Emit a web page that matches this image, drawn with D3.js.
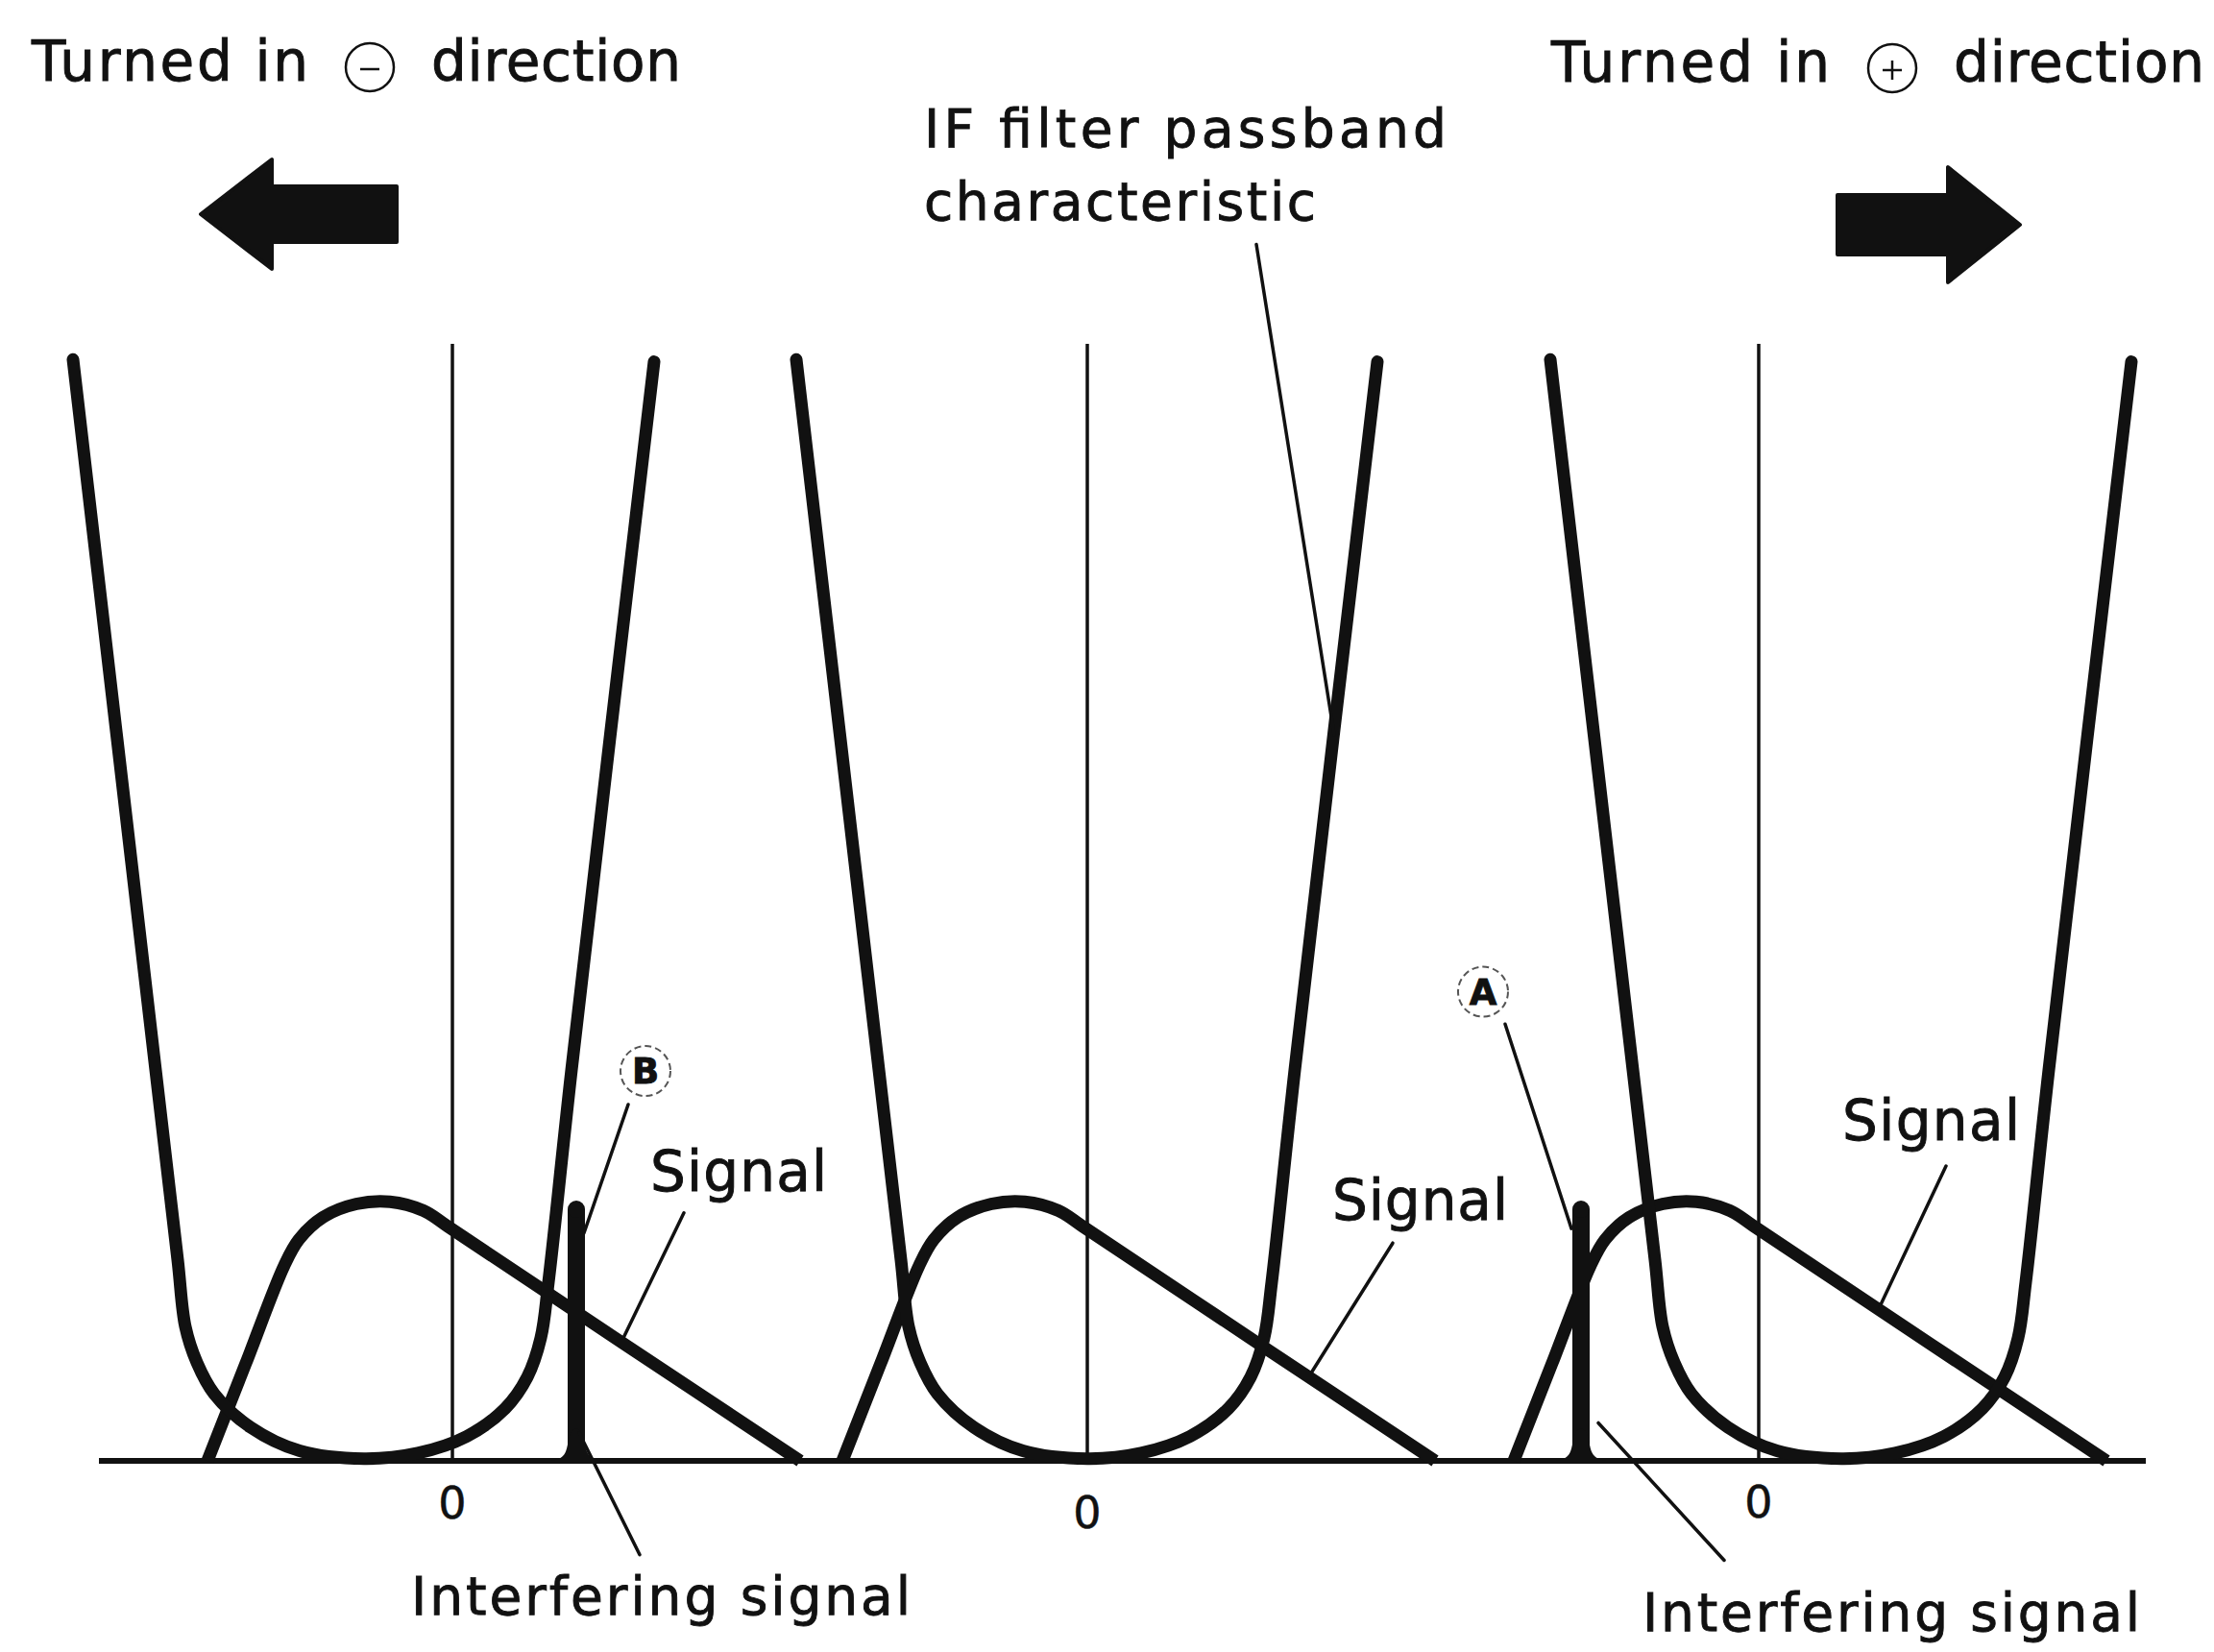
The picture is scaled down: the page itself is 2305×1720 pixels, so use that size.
<!DOCTYPE html>
<html>
<head>
<meta charset="utf-8">
<script src="https://cdn.jsdelivr.net/npm/d3@7"></script>
<style>
  html, body { margin: 0; padding: 0; background: #fff; }
  svg { display: block; }
  text { font-family: "DejaVu Sans", sans-serif; fill: #111; stroke: #111; stroke-width: 0.9px; }
</style>
</head>
<body>
<svg id="chart"></svg>
<script>
// IF filter passband vs. signal, three tuning positions side by side

// dial position of each panel's zero (kHz) and how far the filter is turned
const panelZero = [47.1, 113.2, 183.1];
const filterShift = [-9.2, 0, 8.6];
const zeroLabels = ['0', '0', '0'];

// IF filter passband, [offset kHz, relative level]
const filterShape = [
    [-30.3, 98.6], [-21.7, 35.0], [-19.4, 18.0], [-18.6, 12.0], [-17.4, 8.8],
    [-15.6, 6.0], [-11.8, 3.0], [-6.7, 0.9], [0, 0.2], [5.6, 0.7],
    [10.7, 2.2], [14.7, 4.7], [17.0, 7.5], [18.4, 11.0], [19.2, 16.0],
    [21.6, 35.0], [30.2, 98.4]
];

// wanted signal spectrum, relative to each panel's zero
const signalShape = [
    [-25.5, 0], [-21.5, 8.75], [-17.5, 17.5], [-16.0, 19.8], [-13.5, 21.8],
    [-10.0, 23.0], [-6.5, 23.2], [-3.0, 22.4], [-0.5, 21.0], [18.0, 10.4], [36.2, 0]
];

// interfering carrier in each panel (null where there is none)
const interferer = [12.9, null, -18.5];
const interfererLevel = 23.3;

// ---- layout -------------------------------------------------------------
const width = 2305, height = 1720;

const svg = d3.select('#chart')
    .attr('width', width)
    .attr('height', height);

const x = d3.scaleLinear().domain([0, 230.5]).range([0, width]);
const y = d3.scaleLinear().domain([0, 100]).range([1521, 358]);

const line = d3.line()
    .x(d => x(d[0]))
    .y(d => y(d[1]))
    .curve(d3.curveCatmullRom.alpha(0.5));

const ink = '#111';

// annotation placement, in the same units as the data
const zeroLabelLevel = [-5.2, -6.0, -5.1];
const signalNotes = [
    { f: 67.7, a: 24.2, w: 184, from: [71.2, 22.2], to: [64.9, 11.0] },
    { f: 138.7, a: 21.6, w: 183, from: [145.0, 19.5], to: [136.6, 8.0] },
    { f: 191.8, a: 28.7, w: 185, from: [202.6, 26.4], to: [195.7, 13.8] }
];
const interferingNotes = [
    { f: 42.8, a: -13.8, w: 520, from: [66.6, -8.4], to: [60.3, 2.5] },
    { f: 171.0, a: -15.2, w: 518, from: [179.5, -8.9], to: [166.4, 3.4] }
];
const markNotes = [
    { label: 'B', f: 67.2, a: 34.9, from: [65.4, 31.9], to: [60.8, 20.4] },
    { label: 'A', f: 154.4, a: 42.0, from: [156.7, 39.1], to: [163.6, 20.8] }
];
const filterNote = { from: [130.8, 108.9], to: [138.9, 65.0] };

// ---- axes ---------------------------------------------------------------
// zero reference of each panel
svg.append('g')
    .selectAll('line')
    .data(panelZero)
    .join('line')
    .attr('x1', d => x(d)).attr('x2', d => x(d))
    .attr('y1', y(0)).attr('y2', y(100))
    .attr('stroke', ink)
    .attr('stroke-width', 3.5);

svg.append('g')
    .selectAll('text')
    .data(panelZero)
    .join('text')
    .attr('x', d => x(d))
    .attr('y', (d, i) => y(zeroLabelLevel[i]))
    .attr('text-anchor', 'middle')
    .attr('font-size', 46)
    .style('stroke-width', '0.5px')
    .text((d, i) => zeroLabels[i]);

// frequency baseline
svg.append('line')
    .attr('x1', x(10.3)).attr('x2', x(223.4))
    .attr('y1', y(0)).attr('y2', y(0))
    .attr('stroke', ink)
    .attr('stroke-width', 6);

// ---- marks --------------------------------------------------------------
const panels = svg.append('g')
    .selectAll('g')
    .data(panelZero)
    .join('g');

// signal spectrum
panels.append('path')
    .attr('d', zero => line(signalShape.map(p => [zero + p[0], p[1]])))
    .attr('fill', 'none')
    .attr('stroke', ink)
    .attr('stroke-width', 13)
    .attr('stroke-linejoin', 'round');

// IF filter passband
panels.append('path')
    .attr('d', (zero, i) => line(filterShape.map(p => [zero + filterShift[i] + p[0], p[1]])))
    .attr('fill', 'none')
    .attr('stroke', ink)
    .attr('stroke-width', 13)
    .attr('stroke-linecap', 'round')
    .attr('stroke-linejoin', 'round');

// interfering carriers
const spikes = panelZero
    .map((zero, i) => interferer[i] === null ? null : zero + interferer[i])
    .filter(d => d !== null);

const spike = svg.append('g')
    .selectAll('g')
    .data(spikes)
    .join('g');

spike.append('line')
    .attr('x1', d => x(d)).attr('x2', d => x(d))
    .attr('y1', y(0))
    .attr('y2', y(interfererLevel) + 9)
    .attr('stroke', ink)
    .attr('stroke-width', 18);

spike.append('circle')
    .attr('cx', d => x(d))
    .attr('cy', y(interfererLevel) + 9)
    .attr('r', 9)
    .attr('fill', ink);

// little flare where the carrier meets the baseline
const flare = d3.line().x(d => x(d[0])).y(d => y(d[1])).curve(d3.curveBasis);
spike.append('path')
    .attr('d', d => flare([[d - 2.6, 0], [d - 0.9, 0.3], [d - 0.8, 3.0], [d + 0.8, 3.0], [d + 0.9, 0.3], [d + 2.6, 0]]))
    .attr('fill', ink);

// ---- leaders and labels ------------------------------------------------
const leaders = [filterNote, ...signalNotes, ...interferingNotes, ...markNotes];
svg.append('g')
    .selectAll('line')
    .data(leaders)
    .join('line')
    .attr('x1', d => x(d.from[0])).attr('y1', d => y(d.from[1]))
    .attr('x2', d => x(d.to[0])).attr('y2', d => y(d.to[1]))
    .attr('stroke', ink)
    .attr('stroke-width', 3.5)
    .attr('stroke-linecap', 'round');

svg.append('g')
    .selectAll('text')
    .data(signalNotes)
    .join('text')
    .attr('x', d => x(d.f))
    .attr('y', d => y(d.a))
    .attr('font-size', 58)
    .attr('textLength', d => d.w)
    .attr('lengthAdjust', 'spacing')
    .text('Signal');

svg.append('g')
    .selectAll('text')
    .data(interferingNotes)
    .join('text')
    .attr('x', d => x(d.f))
    .attr('y', d => y(d.a))
    .attr('font-size', 55)
    .attr('textLength', d => d.w)
    .attr('lengthAdjust', 'spacing')
    .text('Interfering signal');

const marks = svg.append('g')
    .selectAll('g')
    .data(markNotes)
    .join('g')
    .attr('transform', d => `translate(${x(d.f)},${y(d.a)})`);

marks.append('circle')
    .attr('r', 26)
    .attr('fill', 'none')
    .attr('stroke', '#555')
    .attr('stroke-width', 2)
    .attr('stroke-dasharray', '7,4');

marks.append('text')
    .attr('text-anchor', 'middle')
    .attr('dy', 13)
    .attr('font-size', 37)
    .attr('font-weight', 'bold')
    .text(d => d.label);

// ---- headings and arrows -------------------------------------------------
const headings = [
    { text: 'Turned in', x: 33, y: 84, w: 288, size: 58 },
    { text: 'direction', x: 449, y: 84, w: 260, size: 58 },
    { text: 'Turned in', x: 1615, y: 85, w: 290, size: 58 },
    { text: 'direction', x: 2034, y: 85, w: 261, size: 58 },
    { text: 'IF filter passband', x: 962, y: 153, w: 544, size: 55 },
    { text: 'characteristic', x: 962, y: 229, w: 408, size: 55 }
];

svg.append('g')
    .selectAll('text')
    .data(headings)
    .join('text')
    .attr('x', d => d.x)
    .attr('y', d => d.y)
    .attr('font-size', d => d.size)
    .attr('textLength', d => d.w)
    .attr('lengthAdjust', 'spacing')
    .text(d => d.text);

// circled minus / plus signs
const signs = [
    { cx: 385, cy: 70, plus: false },
    { cx: 1970, cy: 71, plus: true }
];
const sign = svg.append('g')
    .selectAll('g')
    .data(signs)
    .join('g')
    .attr('transform', d => `translate(${d.cx},${d.cy})`);

sign.append('circle')
    .attr('r', 25)
    .attr('fill', 'none')
    .attr('stroke', ink)
    .attr('stroke-width', 2.5);

sign.append('line')
    .attr('x1', -10).attr('x2', 10)
    .attr('y1', 2).attr('y2', 2)
    .attr('stroke', ink)
    .attr('stroke-width', 2.5);

sign.filter(d => d.plus).append('line')
    .attr('x1', 0).attr('x2', 0)
    .attr('y1', -8).attr('y2', 12)
    .attr('stroke', ink)
    .attr('stroke-width', 2.5);

// direction arrows: tip, where the head starts, tail end, centre line
const arrows = [
    { tip: 209, neck: 283, tail: 413, cy: 223, head: 57, shaft: 29 },
    { tip: 2103, neck: 2028, tail: 1913, cy: 234, head: 60, shaft: 31 }
];

svg.append('g')
    .selectAll('path')
    .data(arrows)
    .join('path')
    .attr('d', a => {
        const p = d3.path();
        p.moveTo(a.tip, a.cy);
        p.lineTo(a.neck, a.cy - a.head);
        p.lineTo(a.neck, a.cy - a.shaft);
        p.lineTo(a.tail, a.cy - a.shaft);
        p.lineTo(a.tail, a.cy + a.shaft);
        p.lineTo(a.neck, a.cy + a.shaft);
        p.lineTo(a.neck, a.cy + a.head);
        p.closePath();
        return p.toString();
    })
    .attr('fill', ink)
    .attr('stroke', ink)
    .attr('stroke-width', 4)
    .attr('stroke-linejoin', 'round');
</script>
</body>
</html>
